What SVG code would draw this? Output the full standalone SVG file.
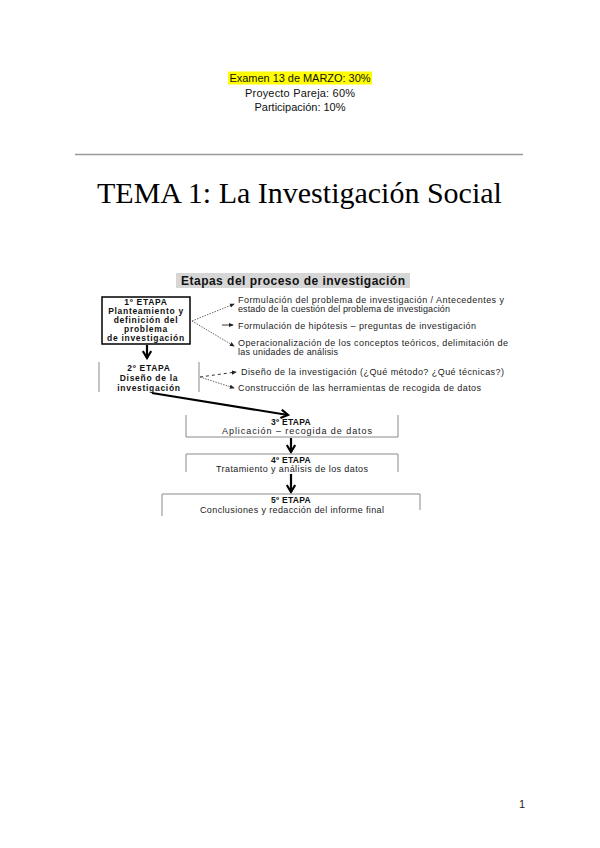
<svg xmlns="http://www.w3.org/2000/svg" width="600" height="848" viewBox="0 0 600 848">
<defs>
<style>
.hd{font-family:"Liberation Sans",Arial,sans-serif;font-size:11px;fill:#111;text-anchor:middle}
.ttl{font-family:"Liberation Serif","Times New Roman",serif;font-size:30px;fill:#000}
.b{font-family:"Liberation Sans",Arial,sans-serif;font-size:8.5px;font-weight:bold;fill:#111;text-anchor:middle;letter-spacing:0.7px}
.s{font-family:"Liberation Sans",Arial,sans-serif;font-size:9px;fill:#222}
.sc{font-family:"Liberation Sans",Arial,sans-serif;font-size:9px;fill:#222;text-anchor:middle}
.gb{fill:none;stroke:#8a8a8a;stroke-width:1}
.thick{fill:none;stroke:#000;stroke-width:2.2}
.dot{fill:none;stroke:#555;stroke-width:0.9;stroke-dasharray:1.5 1.2}
.dash{fill:none;stroke:#333;stroke-width:1;stroke-dasharray:3 3}
</style>
<marker id="chev" viewBox="0 0 10 10" refX="8" refY="5" markerWidth="10" markerHeight="10" markerUnits="userSpaceOnUse" orient="auto">
<path d="M1,0.8 L8,5 L1,9.2" fill="none" stroke="#000" stroke-width="2.2"/>
</marker>
<marker id="sm" viewBox="0 0 6 6" refX="5" refY="3" markerWidth="5" markerHeight="5" markerUnits="userSpaceOnUse" orient="auto">
<path d="M0,0.5 L6,3 L0,5.5 Z" fill="#222"/>
</marker>
</defs>
<rect width="600" height="848" fill="#fff"/>

<g id="header">
<rect x="228" y="71.5" width="144" height="13" fill="#ffff00"/>
<text class="hd" x="300" y="82" textLength="141" lengthAdjust="spacing">Examen 13 de MARZO: 30%</text>
<text class="hd" x="300" y="97" textLength="110" lengthAdjust="spacing">Proyecto Pareja: 60%</text>
<text class="hd" x="300" y="111" textLength="91" lengthAdjust="spacing">Participación: 10%</text>
<line x1="75" y1="154.5" x2="523" y2="154.5" stroke="#999" stroke-width="1.5"/>
<text class="ttl" x="97" y="203">TEMA 1: La Investigación Social</text>
</g>

<g id="title-box">
<rect x="176" y="273" width="234" height="15" fill="#d6d6d6"/>
<text x="293" y="285" font-family="Liberation Sans, Arial, sans-serif" font-size="12" font-weight="bold" text-anchor="middle" fill="#111" textLength="224" lengthAdjust="spacing">Etapas del proceso de investigación</text>
</g>

<g id="connectors">
<line class="thick" x1="147" y1="345" x2="147" y2="358" marker-end="url(#chev)"/>
<line class="thick" x1="152" y1="393" x2="288" y2="415" marker-end="url(#chev)"/>
<line class="thick" x1="291" y1="438" x2="291" y2="452" marker-end="url(#chev)"/>
<line class="thick" x1="291" y1="474" x2="291" y2="492" marker-end="url(#chev)"/>
<line class="dot" x1="192" y1="321" x2="234" y2="304" marker-end="url(#sm)"/>
<line x1="222" y1="325" x2="233" y2="325" stroke="#222" stroke-width="0.9" marker-end="url(#sm)"/>
<line class="dot" x1="192" y1="321" x2="234" y2="346" marker-end="url(#sm)"/>
<line class="dash" x1="200" y1="377" x2="236" y2="372" marker-end="url(#sm)"/>
<line class="dot" x1="200" y1="377" x2="234" y2="388" marker-end="url(#sm)"/>
</g>

<g id="etapa1">
<rect x="102" y="297" width="88" height="47" fill="#fff" stroke="#000" stroke-width="1.5"/>
<text class="b" x="146" y="305">1º ETAPA</text>
<text class="b" x="146" y="314">Planteamiento y</text>
<text class="b" x="146" y="323">definición del</text>
<text class="b" x="146" y="332">problema</text>
<text class="b" x="146" y="341">de investigación</text>
</g>

<g id="etapa1-items">
<text class="s" x="238" y="303" textLength="266" lengthAdjust="spacing">Formulación del problema de investigación  / Antecedentes y</text>
<text class="s" x="238" y="312" textLength="212" lengthAdjust="spacing">estado de la cuestión del problema de investigación</text>
<text class="s" x="238" y="329" textLength="238" lengthAdjust="spacing">Formulación de hipótesis – preguntas de investigación</text>
<text class="s" x="238" y="346" textLength="270" lengthAdjust="spacing">Operacionalización de los conceptos teóricos, delimitación de</text>
<text class="s" x="238" y="355" textLength="100" lengthAdjust="spacing">las unidades de análisis</text>
</g>

<g id="etapa2">
<line class="gb" x1="99" y1="362" x2="99" y2="392" stroke="#555"/>
<line class="gb" x1="199" y1="362" x2="199" y2="392" stroke="#555"/>
<text class="b" x="149" y="371">2º ETAPA</text>
<text class="b" x="149" y="381">Diseño de la</text>
<text class="b" x="149" y="391">investigación</text>
</g>

<g id="etapa2-items">
<text class="s" x="241" y="375" textLength="263" lengthAdjust="spacing">Diseño de la investigación  (¿Qué método? ¿Qué técnicas?)</text>
<text class="s" x="238" y="391" textLength="243" lengthAdjust="spacing">Construcción de las herramientas de recogida de datos</text>
</g>

<g id="etapa3">
<path class="gb" d="M186,415 V437 H398 V415"/>
<text class="b" x="291" y="425" style="letter-spacing:0.3px">3º ETAPA</text>
<text class="sc" x="297" y="434" textLength="150" lengthAdjust="spacing">Aplicación – recogida de datos</text>
</g>

<g id="etapa4">
<path class="gb" d="M186,472 V454 H398 V472"/>
<text class="b" x="291" y="463" style="letter-spacing:0.3px">4º ETAPA</text>
<text class="sc" x="292" y="472" textLength="152" lengthAdjust="spacing">Tratamiento y análisis de los datos</text>
</g>

<g id="etapa5">
<path class="gb" d="M162,516 V494 H420 V510"/>
<text class="b" x="291" y="503" style="letter-spacing:0.3px">5º ETAPA</text>
<text class="sc" x="292" y="513" textLength="184" lengthAdjust="spacing">Conclusiones y redacción del informe final</text>
</g>

<g id="page">
<text x="522" y="808" font-family="Liberation Sans, Arial, sans-serif" font-size="11" fill="#222" text-anchor="middle">1</text>
</g>
</svg>
